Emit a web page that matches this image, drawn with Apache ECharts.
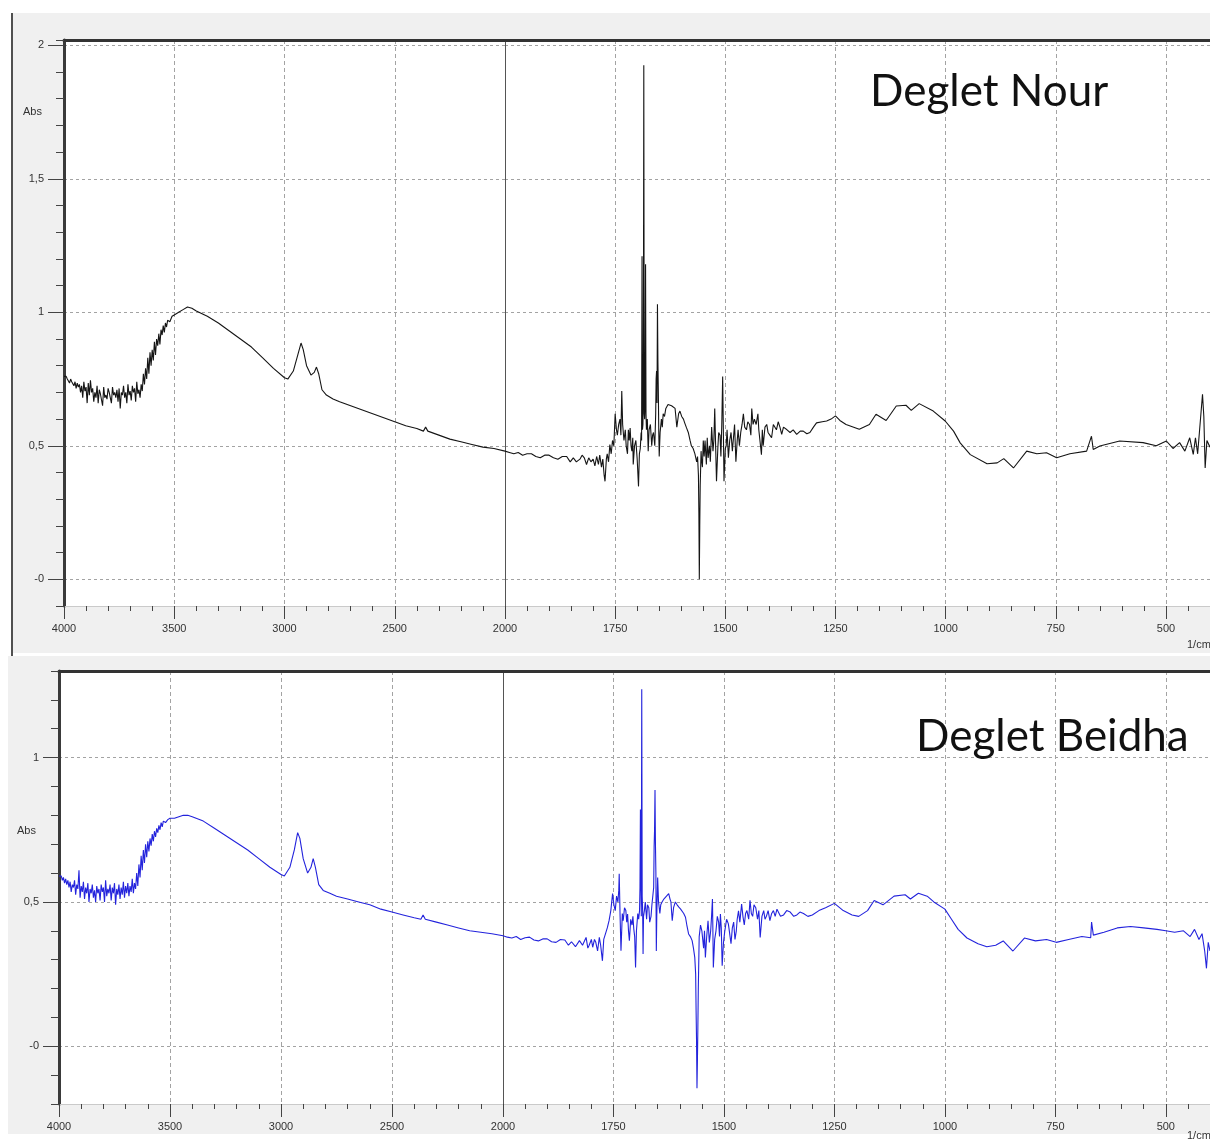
<!DOCTYPE html>
<html>
<head>
<meta charset="utf-8">
<script src="https://cdn.jsdelivr.net/npm/echarts@6/dist/echarts.min.js"></script>
<style>
  html, body { margin: 0; padding: 0; background: #fff; }
  #chart { width: 1210px; height: 1139px; }
</style>
</head>
<body>
<div id="chart"></div>
<script>
// [wavenumber 1/cm, absorbance]
const nourHigh = [
  [4000, 0.76], [3995, 0.755], [3990, 0.76], [3985, 0.75], [3980, 0.755], [3975, 0.735], [3970, 0.75],
  [3965, 0.74], [3960, 0.745], [3955, 0.725], [3950, 0.74], [3945, 0.715], [3940, 0.735], [3935, 0.72],
  [3930, 0.73], [3925, 0.70], [3920, 0.725], [3915, 0.68], [3910, 0.74], [3905, 0.705], [3900, 0.72],
  [3895, 0.66], [3890, 0.735], [3885, 0.69], [3880, 0.745], [3875, 0.70], [3870, 0.715], [3865, 0.665],
  [3860, 0.70], [3855, 0.68], [3850, 0.725], [3845, 0.66], [3840, 0.71], [3835, 0.695], [3830, 0.70],
  [3825, 0.65], [3820, 0.72], [3815, 0.68], [3810, 0.69], [3805, 0.675], [3800, 0.715], [3795, 0.70],
  [3790, 0.705], [3785, 0.66], [3780, 0.72], [3775, 0.69], [3770, 0.70], [3765, 0.68], [3760, 0.71],
  [3755, 0.665], [3750, 0.715], [3745, 0.64], [3740, 0.70], [3735, 0.69], [3730, 0.725], [3725, 0.68],
  [3720, 0.70], [3715, 0.66], [3710, 0.73], [3705, 0.69], [3700, 0.705], [3695, 0.67], [3690, 0.725],
  [3685, 0.70], [3680, 0.715], [3675, 0.665], [3670, 0.74], [3665, 0.695], [3660, 0.71], [3655, 0.68],
  [3650, 0.73], [3645, 0.705], [3640, 0.77], [3635, 0.73], [3630, 0.79], [3625, 0.75], [3620, 0.83],
  [3615, 0.77], [3610, 0.85], [3605, 0.80], [3600, 0.86], [3595, 0.82], [3590, 0.89], [3585, 0.84],
  [3580, 0.90], [3575, 0.875], [3570, 0.92], [3565, 0.88], [3560, 0.935], [3555, 0.915], [3550, 0.95],
  [3545, 0.925], [3540, 0.96], [3535, 0.945], [3530, 0.97], [3520, 0.965], [3510, 0.985], [3500, 0.99],
  [3480, 1.0], [3460, 1.01], [3440, 1.02], [3420, 1.015], [3400, 1.005], [3350, 0.985], [3300, 0.96],
  [3250, 0.93], [3200, 0.90], [3150, 0.87], [3100, 0.83], [3050, 0.79], [3000, 0.755], [2985, 0.75],
  [2960, 0.78], [2940, 0.84], [2925, 0.885], [2915, 0.86], [2900, 0.80], [2880, 0.765], [2865, 0.775],
  [2855, 0.795], [2845, 0.77], [2830, 0.71], [2810, 0.69], [2780, 0.675], [2750, 0.665], [2700, 0.65],
  [2650, 0.635], [2600, 0.62], [2550, 0.605], [2500, 0.59], [2450, 0.575], [2400, 0.565], [2370, 0.555],
  [2360, 0.57], [2350, 0.555], [2300, 0.54], [2250, 0.525], [2200, 0.515], [2150, 0.505], [2100, 0.495],
  [2050, 0.49], [2000, 0.48]
];
const nourLow = [
  [2000, 0.48], [1990, 0.475], [1980, 0.47], [1970, 0.475], [1960, 0.465], [1950, 0.47], [1940, 0.47],
  [1930, 0.46], [1920, 0.455], [1910, 0.465], [1900, 0.465], [1890, 0.455], [1880, 0.45], [1870, 0.46],
  [1860, 0.46], [1852, 0.44], [1845, 0.455], [1838, 0.44], [1830, 0.45], [1825, 0.465], [1820, 0.455],
  [1815, 0.43], [1810, 0.455], [1805, 0.44], [1800, 0.45], [1796, 0.425], [1792, 0.46], [1788, 0.43],
  [1785, 0.465], [1781, 0.42], [1778, 0.45], [1775, 0.39], [1773, 0.367], [1770, 0.45], [1768, 0.47],
  [1765, 0.44], [1762, 0.505], [1759, 0.47], [1756, 0.52], [1753, 0.50], [1750, 0.62], [1747, 0.56],
  [1745, 0.54], [1742, 0.58], [1739, 0.60], [1737, 0.54], [1735, 0.705], [1733, 0.58], [1730, 0.52],
  [1727, 0.56], [1725, 0.50], [1722, 0.47], [1720, 0.56], [1718, 0.52], [1716, 0.567], [1714, 0.50],
  [1712, 0.48], [1710, 0.53], [1709, 0.43], [1706, 0.50], [1703, 0.52], [1700, 0.45], [1697, 0.348],
  [1695, 0.47], [1693, 0.49], [1691, 0.55], [1690, 0.52], [1689, 1.21], [1688, 0.56], [1687, 0.58],
  [1686, 0.70], [1685, 1.925], [1684, 0.62], [1683, 0.6], [1682, 0.66], [1681, 1.18], [1680, 0.62],
  [1679, 0.56], [1677, 0.60], [1675, 0.48], [1673, 0.56], [1670, 0.58], [1667, 0.50], [1665, 0.54],
  [1663, 0.55], [1660, 0.50], [1658, 0.62], [1657, 0.75], [1656, 0.78], [1655, 0.66], [1654, 1.03],
  [1653, 0.82], [1652, 0.70], [1651, 0.55], [1650, 0.46], [1648, 0.55], [1645, 0.60], [1643, 0.57],
  [1641, 0.62], [1638, 0.61], [1635, 0.64], [1630, 0.655], [1626, 0.66], [1622, 0.65], [1618, 0.645],
  [1614, 0.64], [1610, 0.57], [1606, 0.62], [1603, 0.63], [1599, 0.61], [1595, 0.60], [1592, 0.585],
  [1588, 0.567], [1584, 0.55], [1580, 0.52], [1577, 0.50], [1573, 0.49], [1569, 0.47], [1565, 0.44],
  [1563, 0.46], [1561, 0.39], [1560, 0.25], [1559, 0.0], [1558, 0.20], [1557, 0.35], [1555, 0.48],
  [1554, 0.45], [1552, 0.42], [1550, 0.52], [1548, 0.46], [1546, 0.52], [1543, 0.43], [1541, 0.53],
  [1539, 0.455], [1536, 0.50], [1534, 0.44], [1531, 0.57], [1528, 0.48], [1526, 0.52], [1524, 0.64],
  [1522, 0.50], [1520, 0.367], [1517, 0.49], [1515, 0.55], [1512, 0.54], [1510, 0.46], [1508, 0.58],
  [1506, 0.76], [1504, 0.50], [1503, 0.367], [1500, 0.49], [1498, 0.50], [1496, 0.56], [1493, 0.455],
  [1490, 0.52], [1487, 0.55], [1484, 0.48], [1482, 0.52], [1479, 0.58], [1476, 0.44], [1473, 0.52],
  [1471, 0.56], [1468, 0.50], [1465, 0.55], [1462, 0.58], [1459, 0.62], [1456, 0.57], [1452, 0.56],
  [1449, 0.59], [1445, 0.58], [1442, 0.54], [1440, 0.64], [1437, 0.58], [1434, 0.60], [1430, 0.58],
  [1426, 0.62], [1424, 0.56], [1421, 0.555], [1418, 0.467], [1416, 0.56], [1414, 0.50], [1410, 0.57],
  [1406, 0.58], [1403, 0.55], [1399, 0.54], [1395, 0.53], [1391, 0.58], [1388, 0.58], [1384, 0.56],
  [1380, 0.59], [1376, 0.57], [1372, 0.543], [1368, 0.57], [1365, 0.575], [1360, 0.56], [1353, 0.55],
  [1346, 0.56], [1338, 0.543], [1330, 0.555], [1323, 0.555], [1315, 0.545], [1308, 0.55], [1300, 0.57],
  [1293, 0.586], [1280, 0.59], [1270, 0.593], [1260, 0.60], [1250, 0.612], [1240, 0.595], [1226, 0.58],
  [1196, 0.562], [1173, 0.58], [1158, 0.618], [1135, 0.595], [1112, 0.649], [1090, 0.652], [1078, 0.633],
  [1060, 0.658], [1028, 0.63], [1001, 0.593], [982, 0.555], [967, 0.511], [944, 0.467], [906, 0.433],
  [883, 0.436], [868, 0.452], [846, 0.417], [816, 0.48], [793, 0.47], [771, 0.474], [748, 0.455],
  [718, 0.47], [680, 0.48], [669, 0.536], [665, 0.486], [650, 0.499], [605, 0.518], [552, 0.512],
  [522, 0.50], [499, 0.518], [484, 0.49], [469, 0.512], [457, 0.48], [446, 0.53], [438, 0.468],
  [433, 0.53], [428, 0.47], [417, 0.693], [414, 0.61], [411, 0.417], [407, 0.52], [400, 0.495]
];
const beidhaHigh = [
  [4000, 0.59], [3995, 0.585], [3990, 0.59], [3985, 0.575], [3980, 0.585], [3975, 0.565], [3970, 0.58],
  [3965, 0.56], [3960, 0.575], [3955, 0.55], [3950, 0.57], [3945, 0.535], [3940, 0.56], [3935, 0.55],
  [3930, 0.575], [3925, 0.525], [3920, 0.56], [3915, 0.545], [3910, 0.61], [3905, 0.515], [3900, 0.555],
  [3895, 0.535], [3890, 0.57], [3885, 0.51], [3880, 0.55], [3875, 0.53], [3870, 0.565], [3865, 0.50],
  [3860, 0.545], [3855, 0.53], [3850, 0.56], [3845, 0.515], [3840, 0.54], [3835, 0.50], [3830, 0.555],
  [3825, 0.53], [3820, 0.545], [3815, 0.505], [3810, 0.56], [3805, 0.535], [3800, 0.55], [3795, 0.50],
  [3790, 0.575], [3785, 0.52], [3780, 0.545], [3775, 0.53], [3770, 0.56], [3765, 0.505], [3760, 0.55],
  [3755, 0.53], [3750, 0.565], [3745, 0.49], [3740, 0.545], [3735, 0.525], [3730, 0.56], [3725, 0.51],
  [3720, 0.55], [3715, 0.525], [3710, 0.57], [3705, 0.515], [3700, 0.555], [3695, 0.53], [3690, 0.565],
  [3685, 0.52], [3680, 0.555], [3675, 0.535], [3670, 0.58], [3665, 0.53], [3660, 0.565], [3655, 0.545],
  [3650, 0.60], [3645, 0.555], [3640, 0.63], [3635, 0.585], [3630, 0.66], [3625, 0.61], [3620, 0.68],
  [3615, 0.635], [3610, 0.70], [3605, 0.655], [3600, 0.71], [3595, 0.675], [3590, 0.72], [3585, 0.695],
  [3580, 0.735], [3575, 0.71], [3570, 0.745], [3565, 0.725], [3560, 0.755], [3555, 0.74], [3550, 0.765],
  [3545, 0.75], [3540, 0.775], [3535, 0.76], [3530, 0.78], [3520, 0.775], [3510, 0.785], [3500, 0.79],
  [3480, 0.79], [3460, 0.795], [3440, 0.80], [3420, 0.80], [3400, 0.795], [3350, 0.78], [3300, 0.755],
  [3250, 0.73], [3200, 0.705], [3150, 0.68], [3100, 0.65], [3050, 0.62], [3000, 0.595], [2985, 0.59],
  [2960, 0.62], [2940, 0.68], [2925, 0.74], [2915, 0.72], [2900, 0.65], [2880, 0.60], [2865, 0.62],
  [2855, 0.65], [2845, 0.62], [2830, 0.56], [2810, 0.54], [2780, 0.53], [2750, 0.52], [2700, 0.51],
  [2650, 0.50], [2600, 0.49], [2550, 0.475], [2500, 0.465], [2450, 0.455], [2400, 0.445], [2370, 0.44],
  [2360, 0.455], [2350, 0.44], [2300, 0.43], [2250, 0.42], [2200, 0.41], [2150, 0.40], [2100, 0.395],
  [2050, 0.39], [2000, 0.383]
];
const beidhaLow = [
  [2000, 0.383], [1990, 0.378], [1980, 0.375], [1970, 0.38], [1960, 0.37], [1950, 0.376], [1940, 0.378],
  [1930, 0.368], [1920, 0.365], [1910, 0.372], [1900, 0.372], [1890, 0.362], [1880, 0.36], [1870, 0.37],
  [1860, 0.368], [1852, 0.35], [1845, 0.362], [1836, 0.345], [1827, 0.366], [1820, 0.35], [1812, 0.377],
  [1808, 0.34], [1805, 0.35], [1800, 0.37], [1797, 0.343], [1793, 0.37], [1790, 0.36], [1786, 0.33],
  [1782, 0.377], [1779, 0.35], [1775, 0.296], [1772, 0.37], [1768, 0.39], [1764, 0.41], [1760, 0.435],
  [1756, 0.47], [1752, 0.529], [1749, 0.49], [1746, 0.47], [1743, 0.52], [1740, 0.50], [1738, 0.54],
  [1737, 0.598], [1735, 0.45], [1733, 0.331], [1730, 0.46], [1728, 0.435], [1725, 0.48], [1722, 0.47],
  [1720, 0.43], [1718, 0.458], [1716, 0.40], [1714, 0.366], [1711, 0.44], [1708, 0.42], [1706, 0.45],
  [1704, 0.406], [1702, 0.38], [1700, 0.273], [1698, 0.40], [1695, 0.46], [1693, 0.44], [1691, 0.47],
  [1690, 0.55], [1689, 0.82], [1688, 0.60], [1687, 0.45], [1686, 1.237], [1685, 0.52], [1684, 0.47],
  [1683, 0.32], [1682, 0.45], [1680, 0.47], [1678, 0.50], [1675, 0.44], [1673, 0.49], [1670, 0.48],
  [1668, 0.43], [1665, 0.45], [1663, 0.49], [1660, 0.49], [1659, 0.55], [1658, 0.69], [1657, 0.75],
  [1656, 0.888], [1655, 0.70], [1654, 0.60], [1653, 0.33], [1652, 0.45], [1650, 0.585], [1648, 0.50],
  [1645, 0.46], [1643, 0.49], [1640, 0.50], [1636, 0.51], [1632, 0.517], [1628, 0.52], [1625, 0.529],
  [1622, 0.51], [1620, 0.50], [1617, 0.435], [1614, 0.48], [1610, 0.50], [1606, 0.49], [1602, 0.482],
  [1598, 0.475], [1595, 0.47], [1591, 0.46], [1587, 0.447], [1584, 0.42], [1580, 0.389], [1576, 0.38],
  [1572, 0.366], [1569, 0.34], [1566, 0.308], [1564, 0.25], [1563, 0.122], [1562, 0.02], [1561, -0.145],
  [1560, -0.05], [1559, 0.064], [1558, 0.20], [1556, 0.38], [1553, 0.42], [1550, 0.40], [1548, 0.37],
  [1546, 0.34], [1544, 0.40], [1542, 0.308], [1539, 0.38], [1536, 0.435], [1533, 0.36], [1530, 0.40],
  [1528, 0.45], [1526, 0.51], [1525, 0.40], [1524, 0.273], [1521, 0.37], [1518, 0.40], [1515, 0.45],
  [1512, 0.43], [1510, 0.38], [1508, 0.458], [1506, 0.41], [1504, 0.279], [1501, 0.36], [1498, 0.40],
  [1494, 0.44], [1490, 0.424], [1487, 0.39], [1484, 0.355], [1481, 0.41], [1478, 0.43], [1475, 0.37],
  [1472, 0.40], [1470, 0.44], [1467, 0.469], [1464, 0.43], [1460, 0.493], [1457, 0.45], [1454, 0.42],
  [1451, 0.46], [1448, 0.47], [1444, 0.44], [1441, 0.506], [1438, 0.46], [1435, 0.45], [1432, 0.49],
  [1428, 0.48], [1424, 0.44], [1421, 0.47], [1418, 0.377], [1414, 0.45], [1410, 0.47], [1407, 0.44],
  [1404, 0.45], [1400, 0.47], [1396, 0.435], [1392, 0.46], [1388, 0.47], [1384, 0.45], [1380, 0.475],
  [1377, 0.469], [1372, 0.45], [1365, 0.455], [1358, 0.47], [1350, 0.465], [1342, 0.45], [1335, 0.455],
  [1328, 0.465], [1320, 0.46], [1310, 0.45], [1300, 0.455], [1285, 0.47], [1270, 0.48], [1250, 0.495],
  [1230, 0.47], [1210, 0.455], [1195, 0.45], [1175, 0.47], [1160, 0.505], [1140, 0.49], [1115, 0.52],
  [1090, 0.525], [1078, 0.51], [1060, 0.53], [1040, 0.52], [1025, 0.50], [1000, 0.475], [985, 0.44],
  [970, 0.405], [950, 0.375], [925, 0.355], [905, 0.345], [885, 0.35], [868, 0.365], [846, 0.33],
  [820, 0.375], [795, 0.365], [770, 0.37], [748, 0.36], [720, 0.37], [690, 0.38], [670, 0.376],
  [668, 0.43], [664, 0.385], [640, 0.395], [610, 0.41], [580, 0.415], [550, 0.41], [520, 0.405],
  [500, 0.40], [480, 0.395], [460, 0.40], [445, 0.38], [435, 0.405], [425, 0.37], [418, 0.39],
  [412, 0.33], [408, 0.27], [404, 0.36], [400, 0.33]
];

const xLabelsHigh = [4000, 3500, 3000, 2500, 2000];
const xLabelsLow = [1750, 1500, 1250, 1000, 750, 500];
const yLabelsNour = [0, 0.5, 1, 1.5, 2];
const yLabelsBeidha = [0, 0.5, 1];

const panels = [
  { title: 'Deglet Nour', high: nourHigh, low: nourLow, color: '#151515', yMin: -0.1, yMax: 2.02,
    yLabels: yLabelsNour, top: 40, height: 566, left: 64, split: 505, right: 0 },
  { title: 'Deglet Beidha', high: beidhaHigh, low: beidhaLow, color: '#2323dc', yMin: -0.2, yMax: 1.3,
    yLabels: yLabelsBeidha, top: 671, height: 433, left: 59, split: 503, right: -4 }
];

const FONT = 'Liberation Sans';
const labelStyle = { fontSize: 11, color: '#333', fontFamily: FONT };
const dash = { type: [3, 3], color: '#a3a3a3', width: 1 };
const fmtX = v => String(v);
const fmtY = v => (v === 0 ? '-0' : String(v).replace('.', ','));

const grid = [], xAxis = [], yAxis = [], series = [];

panels.forEach(p => {
  const gL = grid.length;
  grid.push({ left: p.left, top: p.top, width: p.split - p.left, height: p.height,
    show: true, backgroundColor: '#fff', borderWidth: 0 });
  grid.push({ left: p.split, top: p.top, right: p.right, height: p.height,
    show: true, backgroundColor: '#fff', borderWidth: 0 });

  [[gL, 2000, 4000, 100, xLabelsHigh], [gL + 1, 400, 2000, 50, xLabelsLow]].forEach(([g, min, max, step, labels]) => {
    const base = { gridIndex: g, type: 'value', inverse: true, min, max, interval: step };
    // minor ticks + bottom line
    xAxis.push({ ...base, position: 'bottom',
      axisLine: { show: true, onZero: false, lineStyle: { color: '#cacaca' } },
      axisTick: { length: 5, lineStyle: { color: '#444' } },
      axisLabel: { show: false }, splitLine: { show: false } });
    // labelled ticks + vertical grid
    const major = xAxis.length;
    xAxis.push({ ...base, position: 'bottom',
      axisLine: { show: false, onZero: false },
      axisTick: { customValues: labels, length: 13, lineStyle: { color: '#444' } },
      axisLabel: { customValues: labels, formatter: fmtX, margin: 17, ...labelStyle },
      splitLine: { show: true, lineStyle: { ...dash, type: [4, 3] } } });
    // thick top frame
    xAxis.push({ ...base, position: 'top',
      axisLine: { show: true, onZero: false, lineStyle: { color: '#333', width: 3 } },
      axisTick: { show: false }, axisLabel: { show: false }, splitLine: { show: false } });

    const yBase = { gridIndex: g, type: 'value', position: 'left', min: p.yMin, max: p.yMax, interval: 0.1 };
    let yMajor;
    if (g === gL) {
      yAxis.push({ ...yBase,
        axisLine: { show: true, onZero: false, lineStyle: { color: '#3a3a3a', width: 3 } },
        axisTick: { length: 8, lineStyle: { color: '#444' } },
        axisLabel: { show: false }, splitLine: { show: false } });
      yMajor = yAxis.length;
      yAxis.push({ ...yBase,
        axisLine: { show: false, onZero: false },
        axisTick: { customValues: p.yLabels, length: 16, lineStyle: { color: '#444' } },
        axisLabel: { customValues: p.yLabels, formatter: fmtY, margin: 20, ...labelStyle },
        splitLine: { show: true, lineStyle: dash } });
    } else {
      yMajor = yAxis.length;
      yAxis.push({ ...yBase,
        axisLine: { show: true, onZero: false, lineStyle: { color: '#555', width: 1 } },
        axisTick: { show: false, customValues: p.yLabels },
        axisLabel: { show: false },
        splitLine: { show: true, lineStyle: dash } });
    }

    series.push({
      type: 'line', xAxisIndex: major, yAxisIndex: yMajor,
      data: g === gL ? p.high : p.low,
      showSymbol: false, symbol: 'none', silent: true, z: 5,
      lineStyle: { color: p.color, width: 1.1 }, itemStyle: { color: p.color }
    });
  });
});

const graphic = [
  { type: 'rect', z: -100, shape: { x: 13, y: 13, width: 1197, height: 640 }, style: { fill: '#f0f0f0' } },
  { type: 'rect', z: -100, shape: { x: 11, y: 13, width: 2, height: 643 }, style: { fill: '#505050' } },
  { type: 'rect', z: -100, shape: { x: 8, y: 656, width: 1202, height: 478 }, style: { fill: '#f0f0f0' } },
  { type: 'text', z: 100, left: 23, top: 106, style: { text: 'Abs', font: '11px "Liberation Sans"', fill: '#333' } },
  { type: 'text', z: 100, left: 17, top: 825, style: { text: 'Abs', font: '11px "Liberation Sans"', fill: '#333' } },
  { type: 'text', z: 100, left: 1187, top: 639, style: { text: '1/cm', font: '11px "Liberation Sans"', fill: '#333' } },
  { type: 'text', z: 100, left: 1187, top: 1130, style: { text: '1/cm', font: '11px "Liberation Sans"', fill: '#333' } },
  { type: 'text', z: 100, left: 870, top: 70, style: { text: panels[0].title, font: '44px Lato', fill: '#111' } },
  { type: 'text', z: 100, left: 916, top: 715, style: { text: panels[1].title, font: '44px Lato', fill: '#111' } }
];

const chart = echarts.init(document.getElementById('chart'), null, { renderer: 'canvas' });
chart.setOption({
  animation: false,
  backgroundColor: '#fff',
  grid, xAxis, yAxis, series, graphic
});
</script>
</body>
</html>
